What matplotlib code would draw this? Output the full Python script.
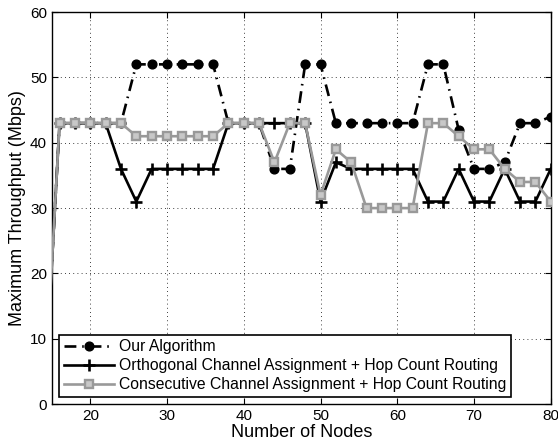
import matplotlib
matplotlib.use('Agg')
import matplotlib.pyplot as plt

plt.rcParams['font.family'] = ['Liberation Sans', 'DejaVu Sans']
plt.rcParams['font.size'] = 11

# number of nodes (the first point at 14 lies outside the visible range)
nodes = [14] + list(range(16, 81, 2))

our_algorithm = [0, 43, 43, 43, 43, 43, 52, 52, 52, 52, 52, 52, 43, 43, 43, 36, 36,
                 52, 52, 43, 43, 43, 43, 43, 43, 52, 52, 42, 36, 36, 37, 43, 43, 44]
orthogonal_hop = [0, 43, 43, 43, 43, 36, 31, 36, 36, 36, 36, 36, 43, 43, 43, 43, 43,
                  43, 31, 37, 36, 36, 36, 36, 36, 31, 31, 36, 31, 31, 36, 31, 31, 36]
consecutive_hop = [0, 43, 43, 43, 43, 43, 41, 41, 41, 41, 41, 41, 43, 43, 43, 37, 43,
                   43, 32, 39, 37, 30, 30, 30, 30, 43, 43, 41, 39, 39, 36, 34, 34, 31]

labels = ['Our Algorithm',
          'Orthogonal Channel Assignment + Hop Count Routing',
          'Consecutive Channel Assignment + Hop Count Routing']

fig = plt.figure(figsize=(5.58, 4.48), dpi=100)
ax = fig.add_axes([0.093, 0.098, 0.894, 0.875])

ax.plot(nodes, our_algorithm, color='black', linestyle=(0, (4.5, 2.2, 0.6, 2.2)), linewidth=1.9,
        marker='o', markersize=6.3, markerfacecolor='black', label=labels[0], zorder=3)
ax.plot(nodes, orthogonal_hop, color='black', linestyle='-', linewidth=1.9,
        marker='+', markersize=8, markeredgewidth=1.9, label=labels[1], zorder=3)
ax.plot(nodes, consecutive_hop, color='#999999', linestyle='-', linewidth=1.9,
        marker='s', markersize=6.2, markerfacecolor='#c8c8c8', markeredgecolor='#999999',
        markeredgewidth=1.7, label=labels[2], zorder=4)

ax.set_xlim(15, 80)
ax.set_ylim(0, 60)
ax.set_xticks([20, 30, 40, 50, 60, 70, 80])
ax.set_yticks([0, 10, 20, 30, 40, 50, 60])
ax.tick_params(direction='in', top=True, right=True, length=4, labelsize=11)
ax.grid(True, linestyle=(0, (1, 4)), color='black', linewidth=0.6)
for s in ax.spines.values():
    s.set_linewidth(1.0)

ax.set_xlabel('Number of Nodes', fontsize=13, labelpad=1)
ax.set_ylabel('Maximum Throughput (Mbps)', fontsize=13, labelpad=3)

leg = ax.legend(loc='lower left', bbox_to_anchor=(0.014, 0.018), borderaxespad=0,
                fancybox=False, framealpha=1, edgecolor='black', fontsize=11.3,
                handlelength=3.2, handletextpad=0.35, labelspacing=0.25,
                borderpad=0.3)
leg.get_frame().set_linewidth(1.2)

fig.savefig('out.png', dpi=100)
